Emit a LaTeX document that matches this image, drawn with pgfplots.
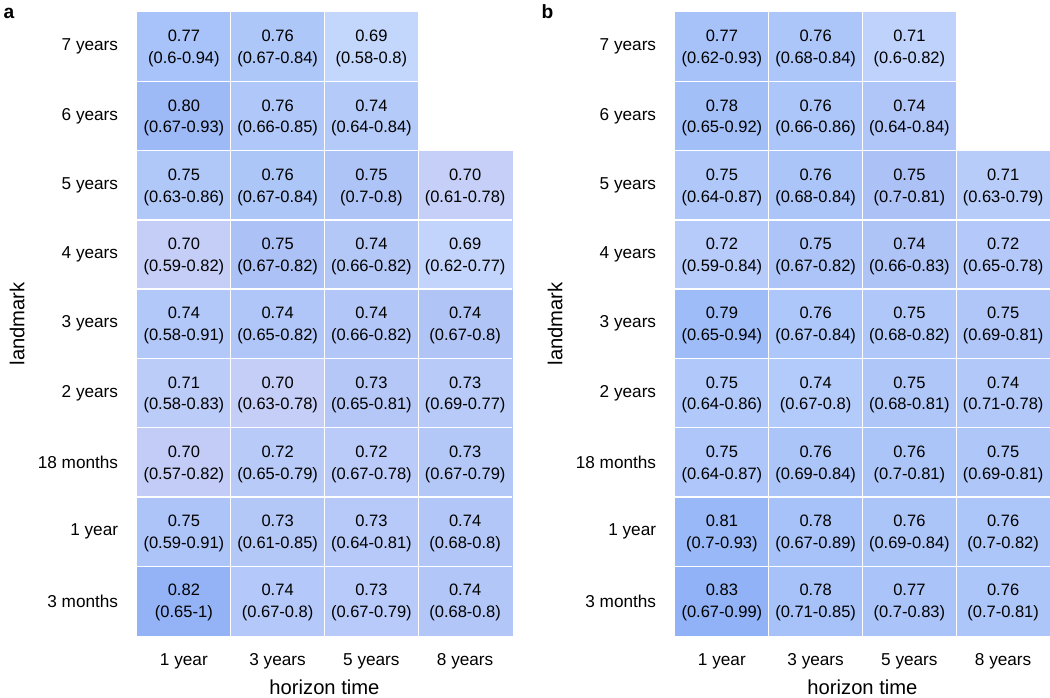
\documentclass[border=0pt]{standalone}
\usepackage{fontspec}
\setmainfont{Liberation Sans}
\usepackage{pgfplots}
\usepackage{pgfplotstable}
\pgfplotsset{compat=1.18}

% x: horizon (0=1y,1=3y,2=5y,3=8y), y: landmark (0=3 months ... 8=7 years)
\pgfplotstableread{
x y c v ci
0 0 rgb255=148,179,246 0.82 (0.65-1)
1 0 rgb255=180,201,249 0.74 (0.67-0.8)
2 0 rgb255=183,202,249 0.73 (0.67-0.79)
3 0 rgb255=178,199,248 0.74 (0.68-0.8)
0 1 rgb255=173,196,249 0.75 (0.59-0.91)
1 1 rgb255=180,200,248 0.73 (0.61-0.85)
2 1 rgb255=182,201,248 0.73 (0.64-0.81)
3 1 rgb255=178,199,248 0.74 (0.68-0.8)
0 2 rgb255=194,204,246 0.70 (0.57-0.82)
1 2 rgb255=184,202,248 0.72 (0.65-0.79)
2 2 rgb255=186,203,249 0.72 (0.67-0.78)
3 2 rgb255=180,200,248 0.73 (0.67-0.79)
0 3 rgb255=188,204,248 0.71 (0.58-0.83)
1 3 rgb255=196,206,247 0.70 (0.63-0.78)
2 3 rgb255=180,199,247 0.73 (0.65-0.81)
3 3 rgb255=183,202,248 0.73 (0.69-0.77)
0 4 rgb255=178,200,248 0.74 (0.58-0.91)
1 4 rgb255=176,198,248 0.74 (0.65-0.82)
2 4 rgb255=178,199,247 0.74 (0.66-0.82)
3 4 rgb255=176,196,246 0.74 (0.67-0.8)
0 5 rgb255=197,206,246 0.70 (0.59-0.82)
1 5 rgb255=172,193,246 0.75 (0.67-0.82)
2 5 rgb255=180,200,247 0.74 (0.66-0.82)
3 5 rgb255=194,212,251 0.69 (0.62-0.77)
0 6 rgb255=176,200,248 0.75 (0.63-0.86)
1 6 rgb255=173,198,248 0.76 (0.67-0.84)
2 6 rgb255=174,195,246 0.75 (0.7-0.8)
3 6 rgb255=198,207,247 0.70 (0.61-0.78)
0 7 rgb255=157,186,247 0.80 (0.67-0.93)
1 7 rgb255=176,200,249 0.76 (0.66-0.85)
2 7 rgb255=180,202,248 0.74 (0.64-0.84)
3 7 rgb255=255,255,255 {} {}
0 8 rgb255=168,195,249 0.77 (0.6-0.94)
1 8 rgb255=174,199,249 0.76 (0.67-0.84)
2 8 rgb255=195,214,252 0.69 (0.58-0.8)
3 8 rgb255=255,255,255 {} {}
}\tablea

\pgfplotstableread{
x y c v ci
0 0 rgb255=145,178,246 0.83 (0.67-0.99)
1 0 rgb255=166,194,249 0.78 (0.71-0.85)
2 0 rgb255=170,196,249 0.77 (0.7-0.83)
3 0 rgb255=173,198,249 0.76 (0.7-0.81)
0 1 rgb255=153,184,247 0.81 (0.7-0.93)
1 1 rgb255=166,194,249 0.78 (0.67-0.89)
2 1 rgb255=172,197,249 0.76 (0.69-0.84)
3 1 rgb255=173,198,249 0.76 (0.7-0.82)
0 2 rgb255=174,198,249 0.75 (0.64-0.87)
1 2 rgb255=172,197,249 0.76 (0.69-0.84)
2 2 rgb255=172,197,248 0.76 (0.7-0.81)
3 2 rgb255=175,198,248 0.75 (0.69-0.81)
0 3 rgb255=177,201,250 0.75 (0.64-0.86)
1 3 rgb255=179,203,250 0.74 (0.67-0.8)
2 3 rgb255=175,198,248 0.75 (0.68-0.81)
3 3 rgb255=178,200,249 0.74 (0.71-0.78)
0 4 rgb255=158,188,248 0.79 (0.65-0.94)
1 4 rgb255=174,199,250 0.76 (0.67-0.84)
2 4 rgb255=176,199,249 0.75 (0.68-0.82)
3 4 rgb255=176,198,248 0.75 (0.69-0.81)
0 5 rgb255=182,203,249 0.72 (0.59-0.84)
1 5 rgb255=172,196,248 0.75 (0.67-0.82)
2 5 rgb255=174,196,247 0.74 (0.66-0.83)
3 5 rgb255=180,201,249 0.72 (0.65-0.78)
0 6 rgb255=176,200,249 0.75 (0.64-0.87)
1 6 rgb255=172,197,249 0.76 (0.68-0.84)
2 6 rgb255=172,194,246 0.75 (0.7-0.81)
3 6 rgb255=184,204,249 0.71 (0.63-0.79)
0 7 rgb255=163,191,248 0.78 (0.65-0.92)
1 7 rgb255=173,198,249 0.76 (0.66-0.86)
2 7 rgb255=176,198,248 0.74 (0.64-0.84)
3 7 rgb255=255,255,255 {} {}
0 8 rgb255=166,194,249 0.77 (0.62-0.93)
1 8 rgb255=172,198,250 0.76 (0.68-0.84)
2 8 rgb255=190,210,252 0.71 (0.6-0.82)
3 8 rgb255=255,255,255 {} {}
}\tableb

\pgfplotsset{
  heat/.style={
    scale only axis, width=187.5pt, height=311.75pt, clip=false,
    xmin=-0.5, xmax=3.5, ymin=-0.5, ymax=8.5,
    xtick={0,1,2,3}, xticklabels={1 year,3 years,5 years,8 years},
    ytick={0,...,8},
    yticklabels={3 months,1 year,18 months,2 years,3 years,4 years,5 years,6 years,7 years},
    minor xtick={0.5,1.5,2.5}, minor ytick={0.5,1.5,...,7.5},
    xminorgrids, yminorgrids,
    minor grid style={draw=white, line width=0.7pt},
    axis on top, axis line style={draw=none},
    major tick length=0pt, minor tick length=0pt,
    tick label style={font=\fontsize{8.6}{10}\selectfont, inner sep=0pt},
    xticklabel shift=8.75pt, yticklabel shift=9.25pt,
    xlabel=horizon time, ylabel=landmark,
    label style={font=\fontsize{10.1}{12}\selectfont, inner sep=0pt},
    xlabel style={at={(axis description cs:0.5,0)}, anchor=north, yshift=-21.75pt},
    ylabel style={at={(axis description cs:-0.2987,0.5)}, anchor=south},
  },
  cells/.style={matrix plot*, mesh/cols=4, mesh/color input=explicit, point meta=explicit symbolic},
  texts/.style={only marks, mark=none, point meta=explicit symbolic,
    nodes near coords, nodes near coords align=center,
    every node near coord/.append style={anchor=base, inner sep=0pt,
      font=\fontsize{8.25}{10}\selectfont, yshift=#1}},
}

\begin{document}
\begin{tikzpicture}
\useasboundingbox (-68.5pt,-30.75pt) rectangle (456.5pt,317.75pt);

\begin{axis}[heat, at={(0,0)}, anchor=south west]
  \addplot[cells] table[x=x, y=y, meta=c] {\tablea};
  \addplot[texts=2.45pt] table[x=x, y=y, meta=v] {\tablea};
  \addplot[texts=-8.45pt] table[x=x, y=y, meta=ci] {\tablea};
  \node[anchor=base west, inner sep=0pt, font=\bfseries\fontsize{9.6}{11}\selectfont]
    at (axis description cs:-0.357,0.9904) {a};
\end{axis}

\begin{axis}[heat, at={(269pt,0)}, anchor=south west]
  \addplot[cells] table[x=x, y=y, meta=c] {\tableb};
  \addplot[texts=2.45pt] table[x=x, y=y, meta=v] {\tableb};
  \addplot[texts=-8.45pt] table[x=x, y=y, meta=ci] {\tableb};
  \node[anchor=base west, inner sep=0pt, font=\bfseries\fontsize{9.6}{11}\selectfont]
    at (axis description cs:-0.357,0.9904) {b};
\end{axis}
\end{tikzpicture}
\end{document}
